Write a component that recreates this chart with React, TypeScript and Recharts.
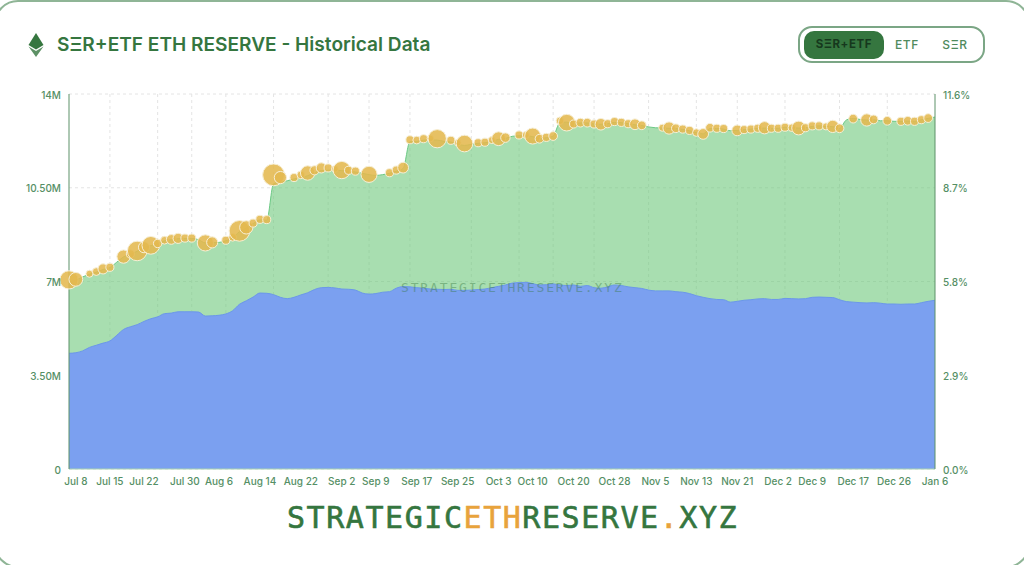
import { Area, CartesianGrid, ComposedChart, Scatter, XAxis, YAxis, ZAxis } from 'recharts';

const green = '#35763f';
const labelGreen = '#558f65';

// total ETH held (millions), one value per trading day
const totalReserve = [
    7.0, 7.05, 7.17, 7.27, 7.35, 7.45, 7.52, 7.72, 7.92, 8.02, 8.13, 8.27, 8.34, 8.41, 8.52, 8.56,
    8.6, 8.61, 8.61, 8.56, 8.44, 8.45, 8.46, 8.52, 8.63, 8.86, 9.0, 9.16, 9.3, 9.29, 10.65, 10.71,
    10.76, 10.83, 10.88, 10.95, 11.06, 11.14, 11.16, 11.16, 11.14, 11.11, 11.09, 11.04, 10.99, 10.96, 10.99, 11.04,
    11.12, 11.22, 12.22, 12.23, 12.28, 12.28, 12.28, 12.23, 12.21, 12.13, 12.08, 12.12, 12.16, 12.18, 12.23, 12.31,
    12.34, 12.42, 12.44, 12.44, 12.41, 12.33, 12.37, 12.43, 12.93, 12.95, 12.9, 12.92, 12.92, 12.88, 12.87, 12.89,
    12.94, 12.93, 12.89, 12.85, 12.82, 12.77, 12.74, 12.73, 12.72, 12.71, 12.68, 12.63, 12.56, 12.51, 12.71, 12.71,
    12.69, 12.63, 12.64, 12.67, 12.69, 12.72, 12.73, 12.72, 12.72, 12.76, 12.74, 12.73, 12.74, 12.79, 12.81, 12.79,
    12.78, 12.72, 13.03, 13.09, 13.05, 13.03, 13.04, 13.0, 13.0, 12.98, 12.98, 12.99, 12.98, 13.04, 13.09, 13.14,
];

// ETF share of the reserve (millions)
const etfReserve = [
    4.32, 4.34, 4.41, 4.54, 4.62, 4.7, 4.78, 4.99, 5.21, 5.31, 5.39, 5.51, 5.61, 5.68, 5.8, 5.82,
    5.87, 5.87, 5.87, 5.86, 5.71, 5.72, 5.74, 5.79, 5.91, 6.15, 6.28, 6.42, 6.57, 6.56, 6.51, 6.41,
    6.36, 6.41, 6.5, 6.58, 6.7, 6.77, 6.78, 6.76, 6.72, 6.71, 6.68, 6.57, 6.53, 6.55, 6.6, 6.62,
    6.75, 6.81, 6.8, 6.77, 6.75, 6.72, 6.71, 6.7, 6.71, 6.67, 6.67, 6.68, 6.7, 6.72, 6.77, 6.82,
    6.87, 6.94, 6.96, 6.97, 6.92, 6.87, 6.88, 6.91, 6.87, 6.85, 6.87, 6.82, 6.85, 6.77, 6.75, 6.8,
    6.87, 6.85, 6.8, 6.77, 6.74, 6.68, 6.65, 6.65, 6.65, 6.62, 6.6, 6.55, 6.47, 6.41, 6.36, 6.33,
    6.32, 6.23, 6.26, 6.3, 6.32, 6.35, 6.36, 6.33, 6.33, 6.37, 6.36, 6.35, 6.36, 6.41, 6.42, 6.41,
    6.4, 6.32, 6.25, 6.23, 6.21, 6.2, 6.21, 6.19, 6.16, 6.16, 6.15, 6.16, 6.16, 6.21, 6.26, 6.3,
];

// inflow bubbles: day index, level (millions), flow (thousand ETH)
const flowDays = [
    0, 1, 3, 4, 5, 6, 8, 9, 10, 11, 12, 13, 14, 15, 16, 17, 18, 20, 21, 23, 24, 25, 26, 27, 28, 29,
    30, 31, 33, 34, 35, 36, 37, 38, 39, 40, 41, 42, 44, 47, 48, 49, 50, 51, 52, 53, 54, 56, 57, 58,
    60, 61, 62, 63, 64, 66, 67, 68, 69, 70, 71, 72, 73, 74, 75, 76, 77, 78, 79, 80, 81, 82, 83, 84,
    87, 88, 89, 90, 91, 92, 93, 94, 95, 96, 98, 99, 100, 101, 102, 103, 104, 105, 106, 107, 108, 109,
    110, 111, 112, 113, 115, 117, 118, 120, 122, 123, 124, 125, 126,
];
const flowLevels = [
    7.06, 7.08, 7.29, 7.37, 7.47, 7.53, 7.93, 8.03, 8.14, 8.28, 8.35, 8.42, 8.54, 8.57, 8.61, 8.62, 8.62, 8.44, 8.46, 8.54, 8.65, 8.89, 9.02, 9.18, 9.32, 9.31,
    10.98, 10.88, 10.88, 10.98, 11.05, 11.15, 11.24, 11.24, 11.2, 11.16, 11.15, 11.12, 11.0, 11.06, 11.16, 11.25, 12.29, 12.28, 12.33, 12.34, 12.33, 12.27, 12.18, 12.15,
    12.18, 12.2, 12.28, 12.33, 12.37, 12.47, 12.47, 12.43, 12.33, 12.38, 12.43, 13.0, 12.93, 12.88, 12.93, 12.93, 12.88, 12.87, 12.89, 12.97, 12.94, 12.89, 12.87, 12.83,
    12.74, 12.73, 12.72, 12.69, 12.64, 12.56, 12.51, 12.74, 12.72, 12.71, 12.64, 12.67, 12.69, 12.72, 12.74, 12.72, 12.72, 12.76, 12.74, 12.73, 12.74, 12.81,
    12.81, 12.79, 12.79, 12.72, 13.08, 13.03, 13.05, 13.0, 12.98, 13.0, 12.98, 13.04, 13.1,
];
const flowAmounts = [
    119, 65, 12, 16, 32, 18, 60, 18, 138, 40, 112, 20, 16, 29, 32, 18, 18, 92, 40, 18, 16, 155, 60, 18, 18, 18,
    173, 50, 18, 16, 72, 25, 32, 18, 10, 107, 18, 18, 92, 18, 18, 37, 18, 16, 18, 10, 119, 18, 10, 98,
    18, 18, 12, 65, 27, 18, 12, 90, 22, 18, 22, 15, 98, 18, 22, 22, 18, 44, 18, 18, 18, 18, 37, 22,
    12, 50, 22, 18, 18, 15, 37, 22, 18, 18, 37, 18, 18, 18, 50, 18, 18, 18, 15, 65, 18, 18,
    18, 12, 50, 22, 22, 50, 22, 22, 18, 22, 18, 18, 22,
];

const tickDays = [1, 6, 11, 17, 22, 28, 34, 40, 45, 51, 57, 63, 68, 74, 80, 86, 92, 98, 104, 109, 115, 121, 127];
const tickDates = [
    'Jul 8', 'Jul 15', 'Jul 22', 'Jul 30', 'Aug 6', 'Aug 14', 'Aug 22', 'Sep 2', 'Sep 9', 'Sep 17', 'Sep 25', 'Oct 3',
    'Oct 10', 'Oct 20', 'Oct 28', 'Nov 5', 'Nov 13', 'Nov 21', 'Dec 2', 'Dec 9', 'Dec 17', 'Dec 26', 'Jan 6',
];
const gridDays = [6, 13, 18, 23, 30, 38, 44, 50, 59, 66, 71, 77, 85, 92, 98, 105, 113, 120];

const reserveTicks = [0, 3.5, 7, 10.5, 14];
const reserveLabels = ['0', '3.50M', '7M', '10.50M', '14M'];
const supplyTicks = [0, 2.9, 5.8, 8.7, 11.6];

const rows = totalReserve.map((total, idx) => ({ idx, total, etf: etfReserve[idx] }));
const flowRows = flowDays.map((idx, n) => ({ idx, level: flowLevels[n], flow: flowAmounts[n] }));

const tickStyle = { fontSize: 10, fill: labelGreen, fontFamily: 'Inter', fontWeight: 500 };
const logoFont = '"DejaVu Sans Mono"';

function EthIcon() {
    return (
        <svg width="16" height="24" viewBox="0 0 16 24" style={{ position: 'absolute', left: 28, top: 33 }}>
            <polygon points="8,0 15.5,12 8,16.5 0.5,12" fill={green} />
            <polygon points="0.5,13.5 8,18 15.5,13.5 8,24" fill={green} opacity="0.8" />
        </svg>
    );
}

function Toggle() {
    const text = { position: 'absolute', top: -2, lineHeight: '37px', fontFamily: 'Inter', fontSize: 12, letterSpacing: 0.6, fontWeight: 500, color: '#4f8a5d', textAlign: 'center' } as const;
    return (
        <div style={{ position: 'absolute', left: 798, top: 26, width: 183, height: 33, border: '2px solid #7ba685', borderRadius: 14 }}>
            <div style={{ position: 'absolute', left: 4, top: 3, width: 80, height: 28, background: green, borderRadius: 10 }} />
            <div style={{ ...text, left: 4, width: 80, fontSize: 11.5, color: '#16381d', fontWeight: 700 }}>SΞR+ETF</div>
            <div style={{ ...text, left: 87, width: 40 }}>ETF</div>
            <div style={{ ...text, left: 135, width: 40 }}>SΞR</div>
        </div>
    );
}

export default function App() {
    return (
        <div style={{ position: 'absolute', left: 0, top: 0, width: 1024, height: 565, overflow: 'hidden', background: '#fff' }}>
            <div style={{ position: 'absolute', left: -6, top: 0, width: 1032, height: 564, border: '2px solid #8fb596', borderRadius: 24 }} />
            <EthIcon />
            <div style={{ position: 'absolute', left: 57, top: 33, fontFamily: 'Inter', fontWeight: 600, fontSize: 19.1, lineHeight: '23px', color: green, whiteSpace: 'nowrap' }}>
                SΞR+ETF ETH RESERVE - Historical Data
            </div>
            <Toggle />
            <div style={{ position: 'absolute', left: 0, top: 0 }}>
                <ComposedChart width={1024} height={565} data={rows} margin={{ top: 94, right: 0, bottom: 66, left: 0 }}>
                    <CartesianGrid yAxisId="left" stroke="#e4e4e4" strokeDasharray="3 3" verticalValues={gridDays} />
                    <XAxis
                        dataKey="idx"
                        type="number"
                        domain={[0, 127]}
                        ticks={tickDays}
                        interval={0}
                        height={30}
                        tick={tickStyle}
                        tickLine={false}
                        tickMargin={3}
                        stroke="#a9d3b2"
                        tickFormatter={(d) => tickDates[tickDays.indexOf(d)]}
                    />
                    <YAxis
                        yAxisId="left"
                        width={69}
                        domain={[0, 14]}
                        ticks={reserveTicks}
                        interval={0}
                        tick={{ ...tickStyle, dy: 1 }}
                        tickLine={false}
                        tickMargin={2}
                        stroke="#5d9169"
                        tickFormatter={(v) => reserveLabels[reserveTicks.indexOf(v)]}
                    />
                    <YAxis
                        yAxisId="right"
                        orientation="right"
                        width={89}
                        domain={[0, 11.6]}
                        allowDataOverflow
                        ticks={supplyTicks}
                        interval={0}
                        tick={{ ...tickStyle, dy: 1 }}
                        tickLine={false}
                        tickMargin={2}
                        stroke="#5d9169"
                        tickFormatter={(v) => `${v.toFixed(1)}%`}
                    />
                    <ZAxis dataKey="flow" domain={[0, 200]} range={[14, 430]} />
                    <Area yAxisId="left" type="monotone" dataKey="total" stroke="#6cc985" strokeWidth={1} fill="#6ec87b" fillOpacity={0.6} isAnimationActive={false} />
                    <Area yAxisId="left" type="monotone" dataKey="etf" stroke="#6b97ea" strokeWidth={1} fill="#7ba0f0" fillOpacity={1} isAnimationActive={false} />
                    <Scatter yAxisId="left" data={flowRows} dataKey="level" fill="#e4b84e" fillOpacity={0.88} stroke="#f7efd6" strokeWidth={1} isAnimationActive={false} />
                </ComposedChart>
            </div>
            <div style={{ position: 'absolute', left: 401, top: 280, width: 222, textAlign: 'center', fontFamily: logoFont, fontSize: 13, letterSpacing: 1.85, lineHeight: '16px', color: '#35763f', opacity: 0.4, whiteSpace: 'nowrap' }}>
                STRATEGICETHRESERVE.XYZ
            </div>
            <div style={{ position: 'absolute', left: 287, top: 500, fontFamily: logoFont, fontSize: 30, letterSpacing: 1.55, lineHeight: '36px', color: green, whiteSpace: 'nowrap', WebkitTextStroke: '0.6px currentColor' }}>
                STRATEGIC<span style={{ color: '#e8a33c' }}>ETH</span>RESERVE<span style={{ color: '#e8a33c' }}>.</span>XYZ
            </div>
        </div>
    );
}
